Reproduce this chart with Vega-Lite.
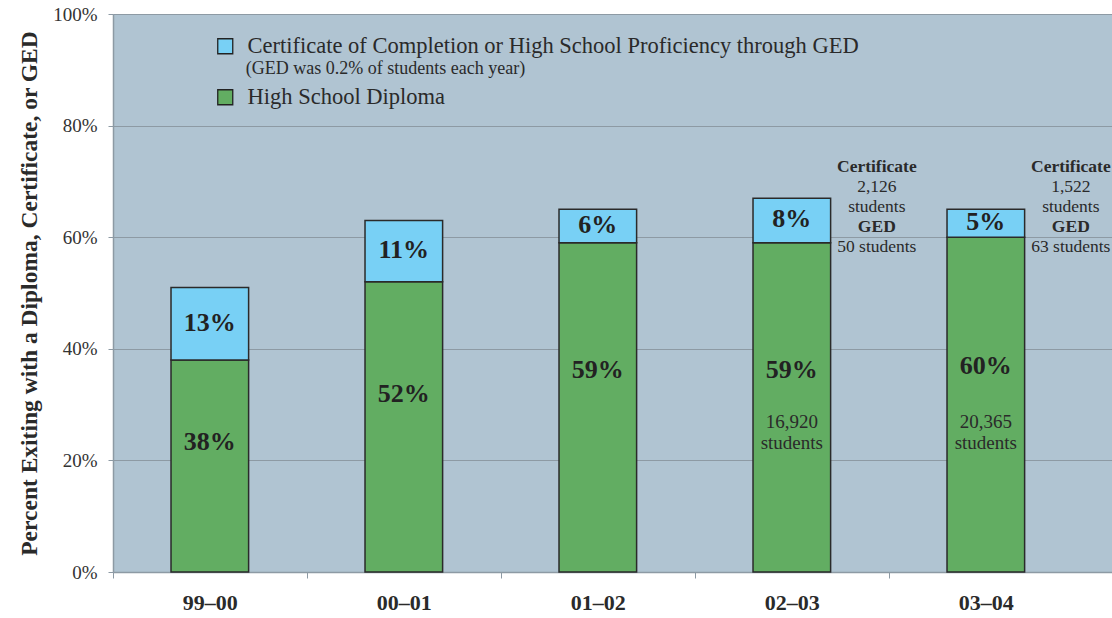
{
  "$schema": "https://vega.github.io/schema/vega-lite/v6.json",
  "width": 999,
  "height": 558,
  "autosize": {"type": "none"},
  "padding": {"left": 113, "top": 14, "right": 0, "bottom": 46},
  "background": "white",
  "config": {
    "font": "Liberation Serif",
    "view": {"stroke": null, "fill": "#b0c4d2"}
  },
  "data": {
    "values": [
      {"year": "99–00", "diploma": 38, "cert": 13, "count": "", "certCount": "", "gedCount": ""},
      {"year": "00–01", "diploma": 52, "cert": 11, "count": "", "certCount": "", "gedCount": ""},
      {"year": "01–02", "diploma": 59, "cert": 6, "count": "", "certCount": "", "gedCount": ""},
      {"year": "02–03", "diploma": 59, "cert": 8, "count": "16,920", "certCount": "2,126", "gedCount": "50"},
      {"year": "03–04", "diploma": 60, "cert": 5, "count": "20,365", "certCount": "1,522", "gedCount": "63"}
    ]
  },
  "encoding": {
    "x": {
      "field": "year",
      "type": "nominal",
      "sort": null,
      "scale": {"paddingInner": 0.6, "paddingOuter": 0.3747, "align": 0.399},
      "axis": {
        "title": null,
        "labelAngle": 0,
        "labelFontSize": 22,
        "labelFontWeight": "bold",
        "labelColor": "#2a2a2a",
        "labelPadding": 14,
        "labelOffset": 97,
        "tickBand": "center",
        "tickOffset": -97,
        "tickSize": 6,
        "tickColor": "#8d9aa4",
        "domainColor": "#8d9aa4",
        "domainWidth": 1.5
      }
    }
  },
  "layer": [
    {
      "transform": [
        {"fold": ["diploma", "cert"], "as": ["key", "value"]},
        {"calculate": "datum.key == 'cert' ? 'Certificate of Completion or High School Proficiency through GED' : 'High School Diploma'", "as": "type"}
      ],
      "mark": {"type": "bar", "stroke": "#2a2a2a", "strokeWidth": 1.5},
      "encoding": {
        "y": {
          "field": "value",
          "type": "quantitative",
          "stack": "zero",
          "scale": {"domain": [0, 100]},
          "axis": {
            "values": [0, 20, 40, 60, 80, 100],
            "labelExpr": "datum.value + '%'",
            "labelFontSize": 19,
            "labelColor": "#333333",
            "labelPadding": 11,
            "tickSize": 5,
            "tickColor": "#8d9aa4",
            "domainColor": "#8d9aa4",
            "domainWidth": 1.5,
            "grid": true,
            "gridColor": "#8d9aa4",
            "gridWidth": 1,
            "title": "Percent Exiting with a Diploma, Certificate, or GED",
            "titleFontSize": 23.5,
            "titleFontWeight": "bold",
            "titleColor": "#2a2a2a",
            "titlePadding": 11
          }
        },
        "color": {
          "field": "type",
          "type": "nominal",
          "scale": {
            "domain": ["Certificate of Completion or High School Proficiency through GED", "High School Diploma"],
            "range": ["#78d0f5", "#62ad62"]
          },
          "legend": {
            "orient": "none",
            "legendX": 101,
            "legendY": 21,
            "title": null,
            "padding": 0,
            "symbolType": "square",
            "symbolSize": 225,
            "symbolStrokeColor": "#222222",
            "symbolStrokeWidth": 1.3,
            "symbolOpacity": 1,
            "labelFontSize": 22.5,
            "labelColor": "#2a2a2a",
            "labelOffset": 11,
            "labelLimit": 0,
            "rowPadding": 28
          }
        },
        "order": {"field": "key", "sort": "descending"}
      }
    },
    {
      "transform": [
        {"calculate": "datum.diploma + datum.cert / 2", "as": "certMid"},
        {"calculate": "datum.cert + '%'", "as": "certLabel"}
      ],
      "mark": {"type": "text", "fontSize": 26, "fontWeight": "bold", "color": "#222222", "baseline": "middle", "dy": -1},
      "encoding": {
        "y": {"field": "certMid", "type": "quantitative"},
        "text": {"field": "certLabel"}
      }
    },
    {
      "transform": [
        {"calculate": "datum.diploma * 0.615", "as": "dipPos"},
        {"calculate": "datum.diploma + '%'", "as": "dipLabel"}
      ],
      "mark": {"type": "text", "fontSize": 26, "fontWeight": "bold", "color": "#222222", "baseline": "middle"},
      "encoding": {
        "y": {"field": "dipPos", "type": "quantitative"},
        "text": {"field": "dipLabel"}
      }
    },
    {
      "transform": [
        {"filter": "datum.count != ''"},
        {"calculate": "datum.count + '\\nstudents'", "as": "countText"}
      ],
      "mark": {"type": "text", "fontSize": 19, "color": "#2a2a2a", "baseline": "alphabetic", "lineBreak": "\n", "lineHeight": 21},
      "encoding": {
        "y": {"datum": 25.8, "type": "quantitative"},
        "text": {"field": "countText"}
      }
    },
    {
      "transform": [
        {"filter": "datum.certCount != ''"},
        {"calculate": "'Certificate'", "as": "b0"},
        {"calculate": "'GED'", "as": "b3"},
        {"fold": ["b0", "b3"], "as": ["line", "txt"]},
        {"calculate": "71.6 - (datum.line == 'b0' ? 0 : 3) * 3.584", "as": "pos"}
      ],
      "mark": {"type": "text", "fontSize": 17.5, "fontWeight": "bold", "color": "#2a2a2a", "baseline": "alphabetic", "dx": 85},
      "encoding": {
        "y": {"field": "pos", "type": "quantitative"},
        "text": {"field": "txt"}
      }
    },
    {
      "transform": [
        {"filter": "datum.certCount != ''"},
        {"calculate": "datum.certCount", "as": "n1"},
        {"calculate": "'students'", "as": "n2"},
        {"calculate": "datum.gedCount + ' students'", "as": "n4"},
        {"fold": ["n1", "n2", "n4"], "as": ["line", "txt"]},
        {"calculate": "71.6 - (datum.line == 'n1' ? 1 : datum.line == 'n2' ? 2 : 4) * 3.584", "as": "pos"}
      ],
      "mark": {"type": "text", "fontSize": 17.5, "color": "#2a2a2a", "baseline": "alphabetic", "dx": 85},
      "encoding": {
        "y": {"field": "pos", "type": "quantitative"},
        "text": {"field": "txt"}
      }
    },
    {
      "data": {"values": [{"year": "99–00", "note": "(GED was 0.2% of students each year)"}]},
      "mark": {"type": "text", "fontSize": 18, "color": "#2a2a2a", "align": "left", "baseline": "alphabetic", "dx": 36},
      "encoding": {
        "y": {"datum": 89.3, "type": "quantitative"},
        "text": {"field": "note"}
      }
    }
  ]
}
